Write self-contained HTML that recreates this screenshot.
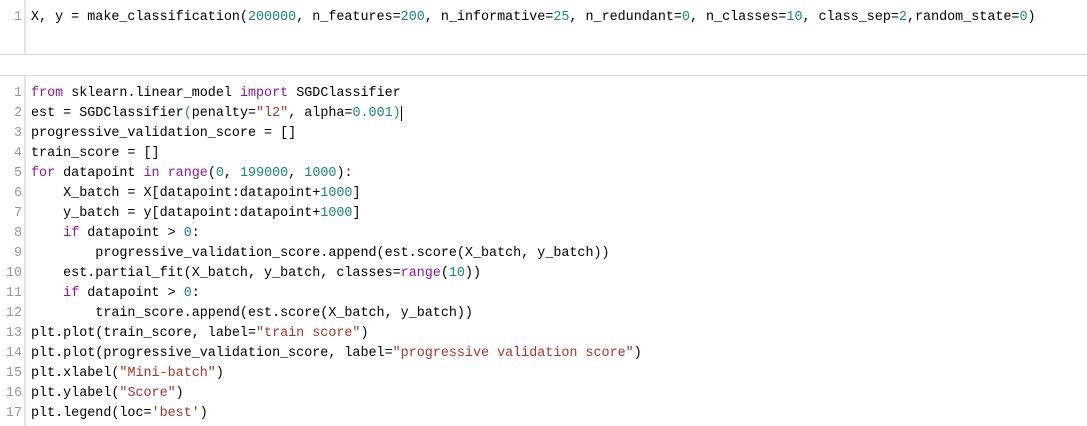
<!DOCTYPE html>
<html><head><meta charset="utf-8"><style>
html,body{margin:0;padding:0;background:#fff;width:1087px;height:426px;overflow:hidden;position:relative}
.ln{position:absolute;left:0;width:22px;text-align:right;color:#999;font:13.4px "Liberation Mono",monospace;}
.c{position:absolute;left:31px;white-space:pre;color:#000;font:13.4px "Liberation Mono",monospace;}
.k{color:#8a1a9e}.n{color:#19877a}.s{color:#a4372a}.b{color:#2ea043}
.hl{position:absolute;left:0;width:1087px;height:1px;background:#d6d6d6}
.vl{position:absolute;left:24px;width:2px;background:#e3e3e3}
.w{position:absolute;left:0;top:0;width:1087px;height:426px;transform:translateY(2px)}
</style></head><body>
<div class="vl" style="top:0;height:54px"></div>
<div class="hl" style="top:54px"></div>
<div class="hl" style="top:75px"></div>
<div class="vl" style="top:76px;height:350px"></div>
<div class="w">
<div class="ln" style="top:8px">1</div>
<div class="c" style="top:8px">X, y = make_classification(<span class="n">200000</span>, n_features=<span class="n">200</span>, n_informative=<span class="n">25</span>, n_redundant=<span class="n">0</span>, n_classes=<span class="n">10</span>, class_sep=<span class="n">2</span>,random_state=<span class="n">0</span>)</div>

<div class="ln" style="top:84px">1</div><div class="c" style="top:84px"><span class="k">from</span> sklearn.linear_model <span class="k">import</span> SGDClassifier</div>
<div class="ln" style="top:104px">2</div><div class="c" style="top:104px">est = SGDClassifier<span class="b">(</span>penalty=<span class="s">"l2"</span>, alpha=<span class="n">0.001</span><span class="b">)</span><span style="border-left:1px solid #000"></span></div>
<div class="ln" style="top:124px">3</div><div class="c" style="top:124px">progressive_validation_score = []</div>
<div class="ln" style="top:144px">4</div><div class="c" style="top:144px">train_score = []</div>
<div class="ln" style="top:164px">5</div><div class="c" style="top:164px"><span class="k">for</span> datapoint <span class="k">in</span> <span class="k">range</span>(<span class="n">0</span>, <span class="n">199000</span>, <span class="n">1000</span>):</div>
<div class="ln" style="top:184px">6</div><div class="c" style="top:184px">    X_batch = X[datapoint:datapoint+<span class="n">1000</span>]</div>
<div class="ln" style="top:204px">7</div><div class="c" style="top:204px">    y_batch = y[datapoint:datapoint+<span class="n">1000</span>]</div>
<div class="ln" style="top:224px">8</div><div class="c" style="top:224px">    <span class="k">if</span> datapoint &gt; <span class="n">0</span>:</div>
<div class="ln" style="top:244px">9</div><div class="c" style="top:244px">        progressive_validation_score.append(est.score(X_batch, y_batch))</div>
<div class="ln" style="top:264px">10</div><div class="c" style="top:264px">    est.partial_fit(X_batch, y_batch, classes=<span class="k">range</span>(<span class="n">10</span>))</div>
<div class="ln" style="top:284px">11</div><div class="c" style="top:284px">    <span class="k">if</span> datapoint &gt; <span class="n">0</span>:</div>
<div class="ln" style="top:304px">12</div><div class="c" style="top:304px">        train_score.append(est.score(X_batch, y_batch))</div>
<div class="ln" style="top:324px">13</div><div class="c" style="top:324px">plt.plot(train_score, label=<span class="s">"train score"</span>)</div>
<div class="ln" style="top:344px">14</div><div class="c" style="top:344px">plt.plot(progressive_validation_score, label=<span class="s">"progressive validation score"</span>)</div>
<div class="ln" style="top:364px">15</div><div class="c" style="top:364px">plt.xlabel(<span class="s">"Mini-batch"</span>)</div>
<div class="ln" style="top:384px">16</div><div class="c" style="top:384px">plt.ylabel(<span class="s">"Score"</span>)</div>
<div class="ln" style="top:404px">17</div><div class="c" style="top:404px">plt.legend(loc=<span class="s">'best'</span>)</div>
</div>
</body></html>
